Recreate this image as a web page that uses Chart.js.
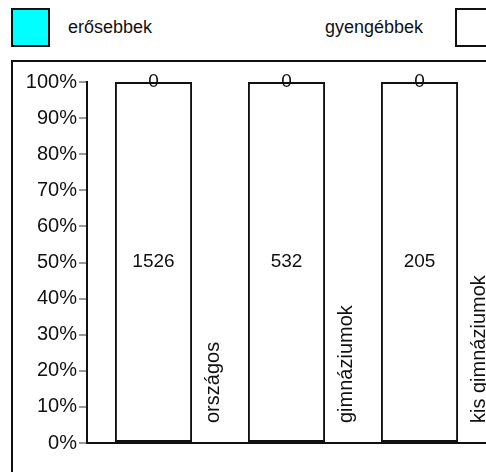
<!DOCTYPE html>
<html>
<head>
<meta charset="utf-8">
<script src="https://cdn.jsdelivr.net/npm/chart.js@4"></script>
<style>
  body { margin: 0; background: #fff; font-family: "Liberation Sans", Arial, sans-serif; }
  #wrap { position: relative; width: 486px; height: 472px; overflow: hidden; }
  #frame { position: absolute; left: 11px; top: 60px; width: 600px; height: 600px; border: 2px solid #111; box-sizing: border-box; }
  #chart_elem { position: absolute; left: 0; top: 0; }
  .leg-box { position: absolute; width: 39px; height: 39px; border: 2px solid #111; box-sizing: border-box; }
  .leg-text { position: absolute; font-size: 18px; color: #111; line-height: 20px; }
</style>
</head>
<body>
<div id="wrap">
  <div id="frame"></div>
  <div id="legend"></div>
  <canvas id="chart_elem" width="486" height="472"></canvas>
</div>
<script>
// categories + counts
const categories = ['országos', 'gimnáziumok', 'kis gimnáziumok'];
const strongCounts = [0, 0, 0];        // erősebbek
const weakCounts = [1526, 532, 205];   // gyengébbek
const seriesNames = ['erősebbek', 'gyengébbek'];
const seriesColors = ['#00ffff', '#ffffff'];
const yTicks = [0, 10, 20, 30, 40, 50, 60, 70, 80, 90, 100];

// 100% stacked -> percentages
const toPct = (arr, i) => {
  let total = strongCounts[i] + weakCounts[i];
  return total ? arr[i] / total * 100 : 0;
};
const weakPct = weakCounts.map((v, i) => toPct(weakCounts, i));
const strongPct = strongCounts.map((v, i) => toPct(strongCounts, i));

// html legend
const legend = document.getElementById('legend');
const legendPos = [{box: 11, text: 68}, {box: 455, text: 325}];
seriesNames.forEach((name, i) => {
  let box = document.createElement('div');
  box.className = 'leg-box';
  box.style.left = legendPos[i].box + 'px';
  box.style.top = '8px';
  box.style.background = seriesColors[i];
  legend.appendChild(box);
  let t = document.createElement('div');
  t.className = 'leg-text';
  t.textContent = name;
  t.style.left = legendPos[i].text + 'px';
  t.style.top = '17px';
  legend.appendChild(t);
});

// value labels in the middle of each segment
const valueLabels = {
  id: 'valueLabels',
  afterDatasetsDraw(chart) {
    const ctx = chart.ctx;
    ctx.save();
    ctx.font = '19px "Liberation Sans", Arial';
    ctx.fillStyle = '#111';
    ctx.textAlign = 'center';
    ctx.textBaseline = 'middle';
    chart.data.datasets.forEach((ds, di) => {
      chart.getDatasetMeta(di).data.forEach((bar, i) => {
        let p = bar.getCenterPoint();
        ctx.fillText(String(ds.counts[i]), p.x, p.y);
      });
    });
    ctx.restore();
  }
};

// rotated category names, sitting right of each bar
const catLabels = {
  id: 'catLabels',
  afterDraw(chart) {
    const ctx = chart.ctx;
    const x = chart.scales.x;
    const step = x.getPixelForValue(1) - x.getPixelForValue(0);
    ctx.save();
    ctx.font = '20px "Liberation Sans", Arial';
    ctx.fillStyle = '#111';
    ctx.textAlign = 'left';
    ctx.textBaseline = 'middle';
    categories.forEach((c, i) => {
      ctx.save();
      ctx.translate(x.getPixelForValue(i) + step * 0.45, chart.chartArea.bottom - 20);
      ctx.rotate(-Math.PI / 2);
      ctx.fillText(c, 0, 0);
      ctx.restore();
    });
    ctx.restore();
  }
};

const canvas = document.getElementById('chart_elem');
const ctx = canvas.getContext('2d');

const data = {
  labels: categories,
  datasets: [
    {
      label: seriesNames[1],
      data: weakPct,
      counts: weakCounts,
      backgroundColor: seriesColors[1],
      borderColor: '#111',
      borderWidth: 2,
      borderSkipped: false,
      barPercentage: 0.58,
      categoryPercentage: 1
    },
    {
      label: seriesNames[0],
      data: strongPct,
      counts: strongCounts,
      backgroundColor: seriesColors[0],
      borderColor: '#111',
      borderWidth: 0,
      barPercentage: 0.58,
      categoryPercentage: 1
    }
  ]
};

const config = {
  type: 'bar',
  data,
  options: {
    responsive: false,
    animation: false,
    layout: { padding: { top: 82, left: 0, right: 0, bottom: 0 } },
    plugins: {
      legend: { display: false },
      tooltip: { enabled: false }
    },
    scales: {
      x: {
        stacked: true,
        grid: { display: false },
        ticks: { display: false },
        border: { display: true, color: '#111', width: 2 },
        afterFit: (s) => { s.height = 29; }
      },
      y: {
        stacked: true,
        min: 0,
        max: 100,
        afterBuildTicks: (s) => { s.ticks = yTicks.map(v => ({ value: v })); },
        ticks: {
          padding: 2,
          color: '#111',
          font: { size: 20, family: '"Liberation Sans", Arial' },
          callback: (v) => v + '%'
        },
        grid: { drawOnChartArea: false, drawTicks: true, tickLength: 8, color: '#999', lineWidth: 2 },
        border: { display: true, color: '#111', width: 2 },
        afterFit: (s) => { s.width = 87; }
      }
    }
  },
  plugins: [valueLabels, catLabels]
};
const chart = new Chart(ctx, config);
</script>
</body>
</html>
